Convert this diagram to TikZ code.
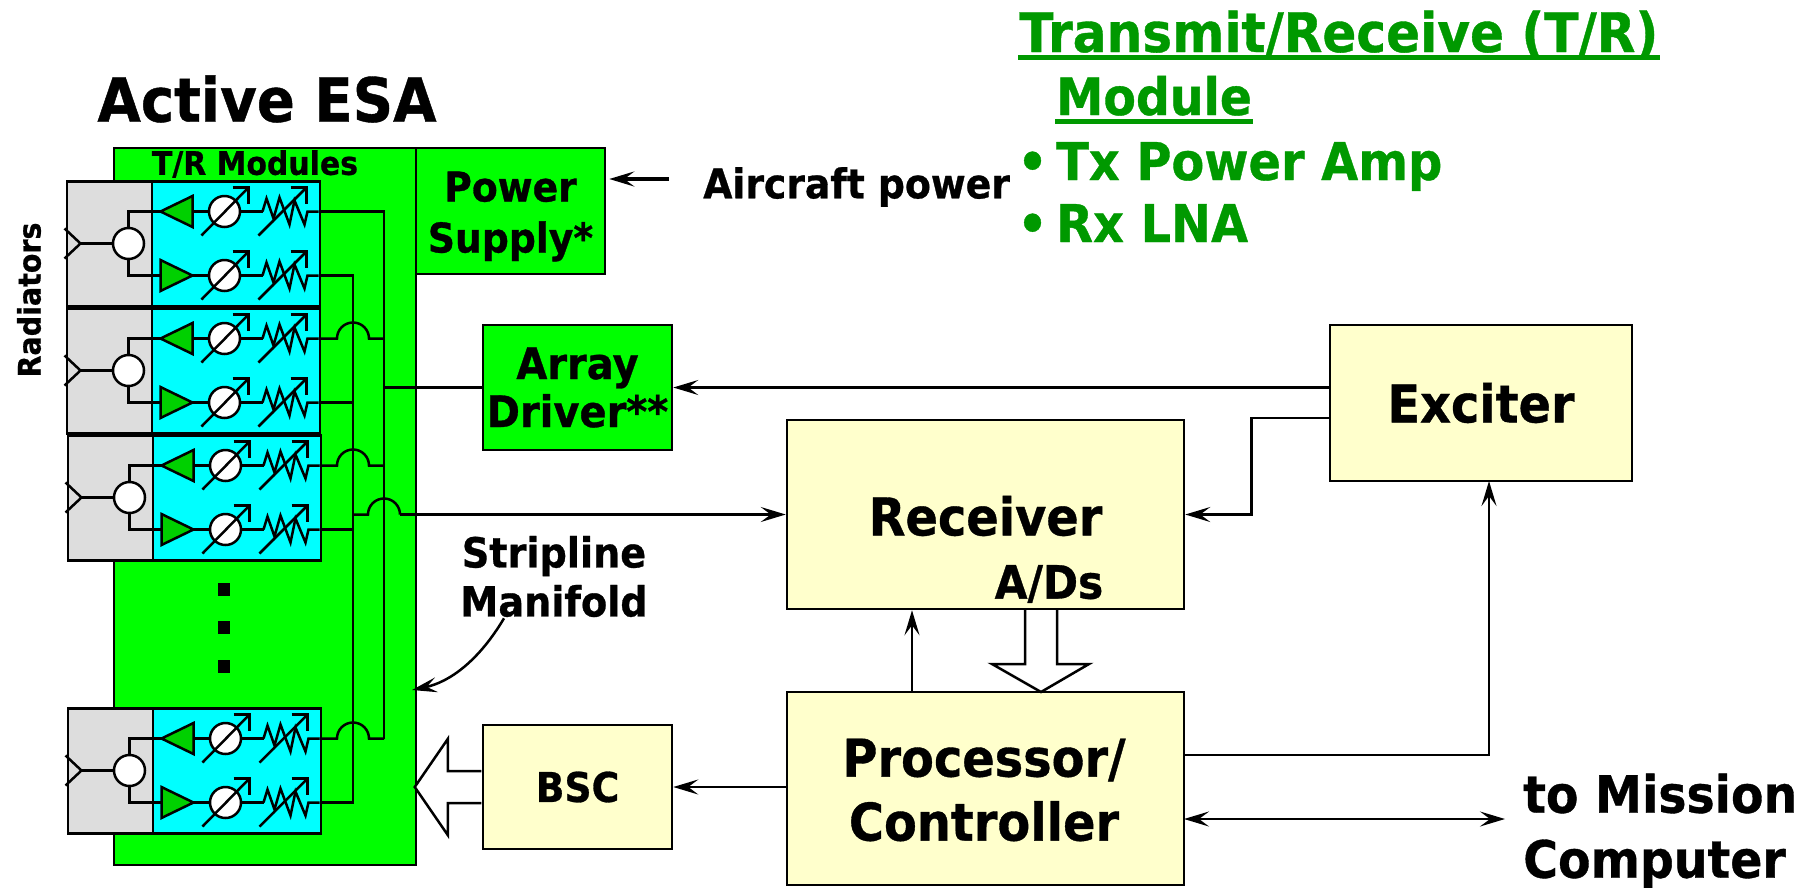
\documentclass[tikz,border=0pt]{standalone}
\usepackage{fontspec}
\setmainfont[FakeStretch=0.92, BoldFeatures={FakeStretch=0.92, FakeBold=0.7}]{DejaVu Sans}
\usetikzlibrary{arrows.meta, positioning, calc}
\definecolor{esagreen}{HTML}{00FF00}
\definecolor{ampgreen}{HTML}{00D000}
\definecolor{textgreen}{HTML}{009900}
\definecolor{modulecyan}{HTML}{00FFFF}
\definecolor{radgray}{HTML}{DDDDDD}
\definecolor{boxyellow}{HTML}{FFFFCC}
\newcommand{\fs}[2]{\fontsize{#1}{#2}\selectfont\bfseries}

\begin{document}
\begin{tikzpicture}[x=1pt, y=-1pt, line width=2.5pt, line join=miter,
    >={Stealth[length=25pt, width=15pt, inset=10pt]},
    greenbox/.style={draw, fill=esagreen, align=center, inner sep=0pt},
    yellowbox/.style={draw, fill=boxyellow, align=center, inner sep=0pt},
    wheel/.style={draw, circle, fill=white, minimum size=31pt, inner sep=0pt},
    amp/.style={draw, fill=ampgreen},
    greentext/.style={text=textgreen, anchor=base west, inner sep=0pt},
    label/.style={inner sep=0pt, align=center}]
  \useasboundingbox (0,0) rectangle (1806,887);

  % Active ESA panel
  \node[greenbox, minimum width=302pt, minimum height=717pt] (esa) at (265,506.5) {};
  \node[greenbox, minimum width=189pt, minimum height=126pt] (power) at (510.5,211) {};
  \node[label, font=\fs{41}{51}] (powertext) at (510.5,216.5) {Power\\Supply*};
  \node[label, font=\fs{61}{70}] (esatitle) at (267,99) {Active ESA};
  \node[label, font=\fs{32.5}{36}] (trlabel) at (255,164) {T/R Modules};
  \node[label, rotate=90, font=\fs{31}{36}] (radiators) at (29,300) {Radiators};

  % T/R modules
  \foreach \n/\x/\y in {1/65.5/180, 2/65.5/307, 3/66.5/434, 4/66.5/707} {
    \begin{scope}[shift={(\x,\y)}]
      \node[draw, fill=radgray, anchor=north west, minimum width=85pt, minimum height=125pt] (m\n gray) at (0,0) {};
      \node[draw, fill=modulecyan, anchor=north west, minimum width=168pt, minimum height=125pt] (m\n cyan) at (85,0) {};
      \node[wheel] (m\n comb) at (63,63.5) {};
      \coordinate (m\n rad) at (15,63.5);
      \coordinate (m\n tx) at (95,31.5);
      \coordinate (m\n rx) at (95,95.5);
      \draw (m\n comb.north) |- (m\n tx);
      \draw (m\n comb.south) |- (m\n rx);
      \draw (m\n comb.west) -- (m\n rad);
      \draw ([shift={(-16,-15)}]m\n rad) -- (m\n rad) -- ([shift={(-16,15)}]m\n rad);
      \draw[amp] (m\n tx) -- ++(32,-15.5) -- ++(0,31) -- cycle;
      \draw[amp] (m\n rx) ++(0,-15.5) -- ++(32,15.5) -- ++(-32,15.5) -- cycle;
      \foreach \b/\yy/\s in {tx/31.5/127, rx/95.5/127} {
        \begin{scope}[shift={(0,\yy)}]
          \coordinate (m\n\b in) at (\s,0);
          \node[wheel] (m\n\b ps) at (159,0) {};
          \coordinate (m\n\b at) at (197,0);
          \coordinate (m\n\b out) at (253,0);
          \draw (m\n\b in) -- (m\n\b ps);
          \draw (m\n\b ps) -- (m\n\b at);
          \draw (136,24) -- (183,-24);
          \draw (167,-24) -- (183,-24) -- (183,-8);
          % attenuator
          \draw (m\n\b at) -- (201,-13) -- (208,7) -- (214,-14) -- (224,13) -- (229,-11) -- (239,13) -- (242,0) -- (m\n\b out);
          \draw (193,24) -- (241,-24);
          \draw (225,-24) -- (241,-24) -- (241,-8);
        \end{scope}
      }
    \end{scope}
  }

  % Dots
  \foreach \y in {589.5, 627.5, 666.5}
    \fill (218,\y-6.5) rectangle (230,\y+6.5);

  % Manifold
  \coordinate (bustx) at (384,211);
  \coordinate (busrx) at (353,275);
  \draw (m1txout) -- (m1txout -| bustx) -- (bustx |- m4txout);
  \draw (m1rxout) -- (m1rxout -| busrx) -- (busrx |- m4rxout) -- (m4rxout);
  \draw (m2rxout) -- (m2rxout -| busrx);
  \draw (m3rxout) -- (m3rxout -| busrx);
  \foreach \n in {2,3,4}
    \draw (m\n txout) -- ($(m\n txout -| busrx)+(-16,0)$) arc (180:360:16) -- (m\n txout -| bustx);

  % Boxes
  \node[greenbox, minimum width=189pt, minimum height=125pt, font=\fs{43.5}{48}] (driver) at (577.5,387.5) {Array\\Driver**};
  \node[yellowbox, minimum width=302pt, minimum height=156pt, font=\fs{52}{60}] (exciter) at (1481,403) {Exciter};
  \node[yellowbox, minimum width=397pt, minimum height=189pt] (receiver) at (985.5,514.5) {};
  \node[label, font=\fs{52}{60}] (rxtext) at (985.5,516) {Receiver};
  \node[yellowbox, minimum width=397pt, minimum height=193pt] (processor) at (985.5,788.5) {};
  \node[label, font=\fs{52}{64}] (proctext) at (984,790) {Processor/\\Controller};
  \node[yellowbox, minimum width=189pt, minimum height=124pt, font=\fs{41}{48}] (bsc) at (577.5,787) {BSC};
  \node[label, font=\fs{46}{50}] (ads) at (1049,584) {A/Ds};

  % Labels
  \node[label, font=\fs{41}{50}, anchor=west] (aircraft) at (702,187) {Aircraft power};
  \node[label, font=\fs{41.5}{49}] (stripline) at (554,576.5) {Stripline\\Manifold};
  \node[label, font=\fs{51.5}{65}, align=left, anchor=west] (mission) at (1522,831) {to Mission\\Computer};

  % T/R legend
  \node[greentext, font=\fs{54.5}{60}] (legend) at (1018,52) {Transmit/Receive (T/R)};
  \node[greentext, font=\fs{51.5}{60}] (legendb) at (1055,115) {Module};
  \node[greentext, font=\fs{52}{60}] (legendc) at (1055,180) {Tx Power Amp};
  \node[greentext, font=\fs{52}{60}] (legendd) at (1055,242) {Rx LNA};
  \node[greentext, font=\fs{52}{60}] (bulletc) at (1016,180) {•};
  \node[greentext, font=\fs{52}{60}] (bulletd) at (1016,242) {•};
  \draw[textgreen, line width=5pt] ([yshift=-5.5pt]legend.base west) -- ([yshift=-5.5pt]legend.base east);
  \draw[textgreen, line width=5pt] ([yshift=-6.5pt]legendb.base west) -- ([yshift=-6.5pt]legendb.base east);

  % Connectors
  \coordinate (acstart) at (669,179);
  \coordinate (mftip) at (412,690);
  \coordinate (excout) at (1330,418);
  \coordinate (excin) at (1489,481);
  \coordinate (ctlout) at (1184,755);
  \coordinate (misout) at (1184,819);
  \coordinate (misend) at (1505,819);
  \coordinate (ctlup) at (912,692);
  \draw[->, line width=3.5pt] (acstart) -- ([xshift=3pt]power.east |- acstart);
  \draw[->] (exciter.west |- driver.east) -- (driver.east);
  \draw (driver.west) -- (driver.west -| bustx);
  \draw[->] (excout) -| ($(receiver.east)+(66,0)$) -- (receiver.east);
  \draw[->] (ctlout) -| (excin);
  \draw[<->] (misout) -- (misend);
  \draw[->] (processor.west |- bsc.east) -- (bsc.east);
  \draw[->] (ctlup) -- (ctlup |- receiver.south);
  \draw[->] ([xshift=-50pt]stripline.south) .. controls +(-25,42) and +(38,-8) .. (mftip);
  \draw (busrx |- receiver.west) -- ($(bustx |- receiver.west)+(-16,0)$) arc (180:360:16) -- ($(bustx |- receiver.west)+(16,0)$);
  \draw[->] ($(bustx |- receiver.west)+(16,0)$) -- (receiver.west);

  % Hollow arrows
  \draw[fill=white] (1025,610) -- ++(0,54) -- ++(-33,0) -- ++(49,28) -- ++(48,-28) -- ++(-32,0) -- ++(0,-54);
  \draw[fill=white] ([shift={(-0.5pt,16pt)}]bsc.west) -- ++(-33.5,0) -- ++(0,-32) -- ++(-33,48) -- ++(33,48) -- ++(0,-32) -- ++(33.5,0);
\end{tikzpicture}
\end{document}
